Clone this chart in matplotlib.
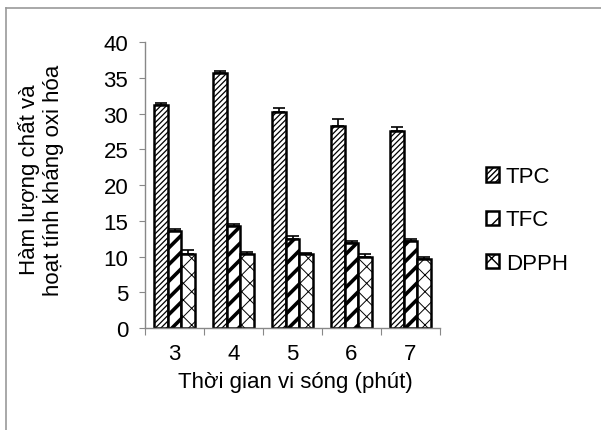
import matplotlib
matplotlib.use("Agg")
import matplotlib.pyplot as plt
import numpy as np
from matplotlib.patches import Patch
from matplotlib.lines import Line2D

categories = ["3", "4", "5", "6", "7"]
tpc = [31.2, 35.6, 30.2, 28.3, 27.6]
tpc_err = [0.2, 0.3, 0.6, 1.0, 0.5]
tfc = [13.5, 14.3, 12.4, 11.9, 12.2]
tfc_err = [0.4, 0.2, 0.4, 0.2, 0.2]
dpph = [10.3, 10.4, 10.3, 9.9, 9.7]
dpph_err = [0.6, 0.2, 0.2, 0.4, 0.2]
series_names = ["TPC", "TFC", "DPPH"]
yticks = [0, 5, 10, 15, 20, 25, 30, 35, 40]

plt.rcParams['font.family'] = ['Liberation Sans', 'DejaVu Sans']
FS = 16

fig = plt.figure(figsize=(6.01, 4.31), dpi=100)
ax = fig.add_axes([145/601, 1-329/431, (440-145)/601, (329-43)/431])

x = np.arange(len(categories))
w = 0.23
specs = [
    (tpc, tpc_err, '//////', 0.9),
    (tfc, tfc_err, '//', 2.6),
    (dpph, dpph_err, 'xx', 0.7),
]
handles = []
for i, (vals, err, hatch, hlw) in enumerate(specs):
    with plt.rc_context({'hatch.linewidth': hlw, 'hatch.color': 'black'}):
        bars = ax.bar(x + (i-1)*w, vals, width=w, facecolor='white', edgecolor='black',
                      linewidth=1.8, hatch=hatch, zorder=2)
        for b in bars:
            if hasattr(b, 'set_hatch_linewidth'):
                b.set_hatch_linewidth(hlw)
        ax.errorbar(x + (i-1)*w, vals, yerr=[np.zeros(len(vals)), err], fmt='none',
                    ecolor='black', elinewidth=1.2, capsize=4, capthick=1.2, zorder=3)
        p = Patch(facecolor='white', edgecolor='black', linewidth=1.8, hatch=hatch)
        if hasattr(p, 'set_hatch_linewidth'):
            p.set_hatch_linewidth(hlw)
        handles.append(p)

ax.set_ylim(0, 40)
ax.set_xlim(-0.5, len(categories)-0.5)
ax.set_yticks(yticks)
ax.set_yticklabels([str(t) for t in yticks], fontsize=FS)
ax.tick_params(axis='y', direction='out', length=4, color='#888888', pad=8)

ax.set_xticks(np.arange(len(categories)+1) - 0.5)
ax.set_xticklabels([])
ax.set_xticks(x, minor=True)
ax.set_xticklabels(categories, minor=True, fontsize=FS)
ax.tick_params(axis='x', which='major', direction='out', length=5, color='#888888')
ax.tick_params(axis='x', which='minor', length=0, pad=11)

for s in ['top', 'right']:
    ax.spines[s].set_visible(False)
for s in ['left', 'bottom']:
    ax.spines[s].set_color('#888888')
    ax.spines[s].set_linewidth(1.0)

fig.text(295/601, 1-383/431, "Thời gian vi sóng (phút)", fontsize=FS, ha='center', va='center')
fig.text(41/601, 1-180/431, "Hàm lượng chất và\nhoạt tính kháng oxi hóa", fontsize=FS,
         rotation=90, ha='center', va='center', linespacing=1.15)

fig.legend(handles, series_names, loc='center left', bbox_to_anchor=(486/601, 1-221/431),
           frameon=False, fontsize=FS, handlelength=0.6, handleheight=0.6,
           handletextpad=0.3, labelspacing=1.0, borderaxespad=0, borderpad=0)

# figure frame (left and top)
fig.add_artist(Line2D([6/601, 6/601], [0, 1-9/431], transform=fig.transFigure, color='#999999', lw=1.2))
fig.add_artist(Line2D([6/601, 1], [1-9/431, 1-9/431], transform=fig.transFigure, color='#999999', lw=1.2))

fig.savefig("out.png", dpi=100)
